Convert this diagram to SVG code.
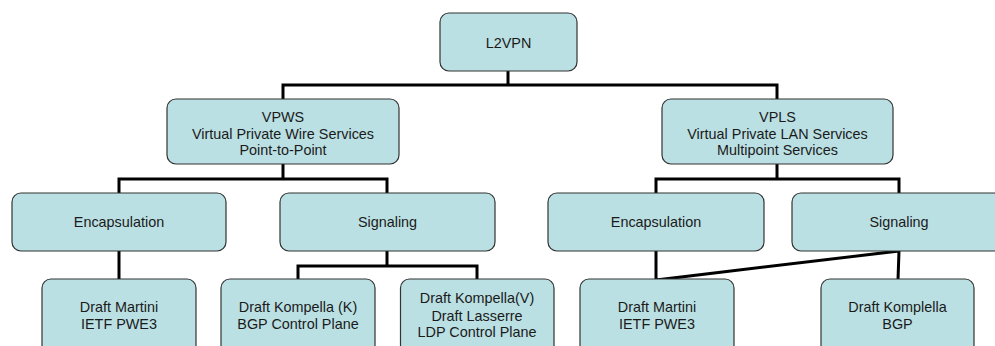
<svg xmlns="http://www.w3.org/2000/svg" width="995" height="346" viewBox="0 0 995 346">
  <style>
    .box { fill: #BBE0E3; stroke: #333333; stroke-width: 1.2; }
    .lbl { font-family: "Liberation Sans", Arial, sans-serif; font-size: 14.4px; fill: #1a1a1a; text-anchor: middle; }
    .wire { fill: none; stroke: #000000; stroke-width: 3; stroke-linejoin: miter; stroke-linecap: butt; }
  </style>
  <rect width="995" height="346" fill="#ffffff"/>

  <!-- tree connectors -->
  <g id="connectors">
    <path class="wire" d="M508 71 V85 M283 99 V85 H777 V99"/>
    <path class="wire" d="M283 164 V179 M119 193 V179 H387 V193"/>
    <path class="wire" d="M777 164 V179 M656 193 V179 H899 V193"/>
    <path class="wire" d="M119 251 V279"/>
    <path class="wire" d="M387 251 V266 M298 279 V266 H477 V279"/>
    <path class="wire" d="M656 251 V280 L899 251 L898 280"/>
  </g>

  <g id="l2vpn">
    <rect class="box" x="440" y="13" width="137" height="58" rx="9"/>
    <text class="lbl" x="508.5" y="48">L2VPN</text>
  </g>

  <g id="vpws">
    <rect class="box" x="167" y="99" width="232" height="65" rx="9"/>
    <text class="lbl" x="283" y="122">VPWS</text>
    <text class="lbl" x="283" y="138.7">Virtual Private Wire Services</text>
    <text class="lbl" x="283" y="155.3">Point-to-Point</text>
  </g>

  <g id="vpls">
    <rect class="box" x="662" y="99" width="231" height="65" rx="9"/>
    <text class="lbl" x="777.5" y="122">VPLS</text>
    <text class="lbl" x="777.5" y="138.7">Virtual Private LAN Services</text>
    <text class="lbl" x="777.5" y="155.3">Multipoint Services</text>
  </g>

  <g id="vpws-encapsulation">
    <rect class="box" x="12" y="193" width="214" height="58" rx="9"/>
    <text class="lbl" x="119" y="227">Encapsulation</text>
  </g>

  <g id="vpws-signaling">
    <rect class="box" x="280" y="193" width="215" height="58" rx="9"/>
    <text class="lbl" x="387.5" y="227">Signaling</text>
  </g>

  <g id="vpls-encapsulation">
    <rect class="box" x="548" y="193" width="216" height="58" rx="9"/>
    <text class="lbl" x="656" y="227">Encapsulation</text>
  </g>

  <g id="vpls-signaling">
    <rect class="box" x="792" y="193" width="214" height="58" rx="9"/>
    <text class="lbl" x="899" y="227">Signaling</text>
  </g>

  <g id="vpws-martini">
    <rect class="box" x="42" y="279" width="154" height="80" rx="9"/>
    <text class="lbl" x="119" y="312.3">Draft Martini</text>
    <text class="lbl" x="119" y="329">IETF PWE3</text>
  </g>

  <g id="kompella-k">
    <rect class="box" x="221" y="279" width="154" height="80" rx="9"/>
    <text class="lbl" x="298" y="312.3">Draft Kompella (K)</text>
    <text class="lbl" x="298" y="329">BGP Control Plane</text>
  </g>

  <g id="kompella-v">
    <rect class="box" x="400.5" y="279" width="153.5" height="80" rx="9"/>
    <text class="lbl" x="477" y="303.3">Draft Kompella(V)</text>
    <text class="lbl" x="477" y="320.5">Draft Lasserre</text>
    <text class="lbl" x="477" y="337.3">LDP Control Plane</text>
  </g>

  <g id="vpls-martini">
    <rect class="box" x="580" y="279" width="154" height="80" rx="9"/>
    <text class="lbl" x="657" y="312.3">Draft Martini</text>
    <text class="lbl" x="657" y="329">IETF PWE3</text>
  </g>

  <g id="komplella">
    <rect class="box" x="821" y="279" width="153" height="80" rx="9"/>
    <text class="lbl" x="897.5" y="312.3">Draft Komplella</text>
    <text class="lbl" x="897.5" y="329">BGP</text>
  </g>
</svg>
